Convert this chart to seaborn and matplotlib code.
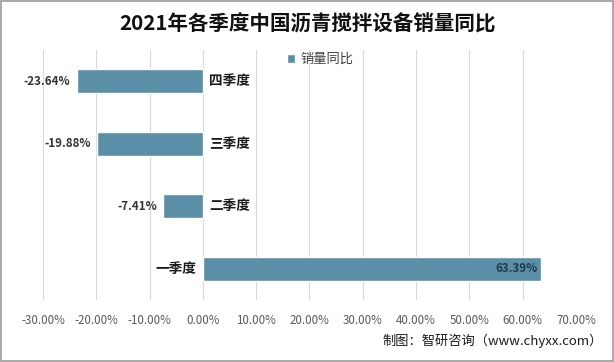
import numpy as np
import pandas as pd
import matplotlib
matplotlib.use('Agg')
import matplotlib.pyplot as plt
from matplotlib.patches import Rectangle
import seaborn as sns

quarters = ['四季度', '三季度', '二季度', '一季度']
yoy = [-23.64, -19.88, -7.41, 63.39]
xticks = [-30, -20, -10, 0, 10, 20, 30, 40, 50, 60, 70]

df = pd.DataFrame({'季度': quarters, '销量同比': yoy})

sns.set_style('white')
plt.rcParams['font.family'] = ['Noto Sans CJK SC', 'DejaVu Sans']

bar_color = '#5b8fa8'

fig = plt.figure(figsize=(6.14, 3.62), dpi=100)
ax = fig.add_axes([0.07, 0.171, 0.868, 0.691])

sns.barplot(data=df, y='季度', x='销量同比', order=quarters, color=bar_color,
            width=0.38, orient='h', ax=ax, label='销量同比', saturation=1)

ax.set_xlim(-30, 70)
ax.set_xticks(xticks)
ax.set_xticklabels([f'{t:.2f}%' for t in xticks], color='#595959', fontsize=8.3)
ax.tick_params(axis='x', length=0, pad=10)
ax.set_yticks([])
ax.set_xlabel('')
ax.set_ylabel('')
ax.grid(axis='x', color='#d9d9d9', linewidth=0.8)
ax.set_axisbelow(True)
for s in ax.spines.values():
    s.set_visible(False)

# category labels next to the zero line, opposite side of the bar
for i, (q, v) in enumerate(zip(quarters, yoy)):
    if v < 0:
        ax.text(1.2, i, q, ha='left', va='center', fontsize=9.8,
                fontweight='bold', color='#1a1a1a')
        ax.text(v - 1.2, i, f'{v:.2f}%', ha='right', va='center',
                fontsize=8.3, fontweight='bold', color='#333333')
    else:
        ax.text(-1.2, i, q, ha='right', va='center', fontsize=9.8,
                fontweight='bold', color='#1a1a1a')
        ax.text(v - 0.6, i, f'{v:.2f}%', ha='right', va='center',
                fontsize=8.3, fontweight='bold', color='#1f3a4a')

leg = ax.legend(loc='upper center', bbox_to_anchor=(0.52, 1.035), frameon=False,
                fontsize=9.5, handlelength=0.6, handleheight=0.6,
                handletextpad=0.4, labelcolor='#404040')

fig.text(0.5, 0.935, '2021年各季度中国沥青搅拌设备销量同比', ha='center',
         va='center', fontsize=14.8, fontweight='bold', color='#111111')
fig.text(0.982, 0.058, '制图：智研咨询（www.chyxx.com）', ha='right',
         va='center', fontsize=9.5, color='#1a1a1a')

fig.patches.append(Rectangle((0.002, 0.003), 0.996, 0.994,
                             transform=fig.transFigure, fill=False,
                             edgecolor='#9a9a9a', linewidth=1.2))

fig.savefig('out.png', dpi=100)
